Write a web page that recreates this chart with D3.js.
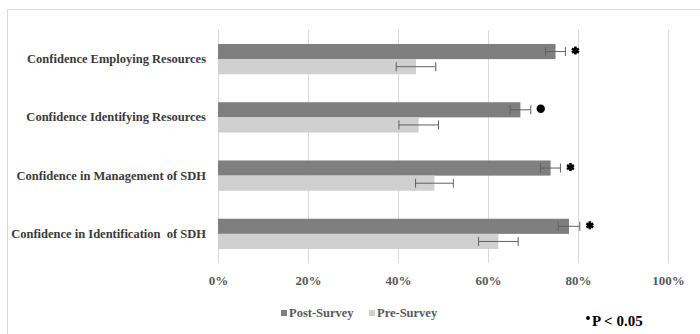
<!DOCTYPE html>
<html>
<head>
<meta charset="utf-8">
<script src="https://cdn.jsdelivr.net/npm/d3@7"></script>
<style>
  html, body { margin: 0; padding: 0; background: #fff; }
  svg { display: block; }
  svg text { font-family: "Liberation Serif", "DejaVu Serif", serif; }
</style>
</head>
<body>
<div id="chart"></div>
<script>
// ---- data ----
const categories = [
  "Confidence Employing Resources",
  "Confidence Identifying Resources",
  "Confidence in Management of SDH",
  "Confidence in Identification  of SDH"
];
const seriesNames = ["Post-Survey", "Pre-Survey"];
const postValues = [75, 67.2, 73.9, 78];
const preValues  = [44, 44.6, 48.1, 62.3];
const postErrors = [2.2, 2.3, 2.2, 2.4];
const preErrors  = [4.4, 4.4, 4.2, 4.4];
const sigMarkers = ["star", "circle", "star", "star"];
const tickValues = [0, 20, 40, 60, 80, 100];
const tickLabels = ["0%", "20%", "40%", "60%", "80%", "100%"];
const noteText = "P < 0.05";

// ---- layout ----
const W = 700, H = 334;
const plot = { left: 218, right: 668, top: 30, bottom: 263 };
const colors = { post: "#7f7f7f", pre: "#d0d0d0" };
const serif = "'Liberation Serif', 'DejaVu Serif', serif";

const svg = d3.select("#chart").append("svg")
  .attr("width", W).attr("height", H);

// outer frame
svg.append("rect")
  .attr("x", 7.5).attr("y", 9.5)
  .attr("width", W + 20).attr("height", H + 20)
  .attr("fill", "none").attr("stroke", "#d9d9d9");

const x = d3.scaleLinear().domain([0, 100]).range([plot.left, plot.right]);
const y = d3.scaleBand().domain(categories).range([plot.top, plot.bottom]).paddingInner(0.48).paddingOuter(0.24);
const ySeries = d3.scaleBand().domain(seriesNames).range([0, y.bandwidth()]);

// gridlines
svg.append("g")
  .selectAll("line").data(tickValues).join("line")
  .attr("x1", d => x(d) + 0.5).attr("x2", d => x(d) + 0.5)
  .attr("y1", plot.top).attr("y2", plot.bottom)
  .attr("stroke", "#d9d9d9").attr("stroke-width", 1);

// x tick labels via axis
const xAxis = d3.axisBottom(x).tickValues(tickValues)
  .tickFormat((d, i) => tickLabels[i]).tickSize(0).tickPadding(0);
const gx = svg.append("g").attr("transform", `translate(0,${plot.bottom + 13})`).call(xAxis);
gx.attr("font-family", null);
gx.select(".domain").remove();
gx.selectAll("text")
  .style("font-family", serif).style("font-size", "13px")
  .style("font-weight", "bold").attr("fill", "#595959");

// y labels via axis
const yAxis = d3.axisLeft(y).tickSize(0).tickPadding(0);
const gy = svg.append("g").attr("transform", `translate(206,0)`).call(yAxis);
gy.attr("font-family", null);
gy.select(".domain").remove();
gy.selectAll("text")
  .style("font-family", serif).style("font-size", "12.5px")
  .style("font-weight", "bold").attr("fill", "#3a3a3a")
  .style("white-space", "pre");

const rows = categories.map((c, i) => ({
  cat: c,
  bars: [
    { s: "Post-Survey", v: postValues[i], e: postErrors[i], color: colors.post },
    { s: "Pre-Survey", v: preValues[i], e: preErrors[i], color: colors.pre }
  ],
  sig: sigMarkers[i]
}));

const g = svg.append("g").selectAll("g").data(rows).join("g")
  .attr("transform", d => `translate(0,${y(d.cat)})`);

g.selectAll("rect").data(d => d.bars).join("rect")
  .attr("x", x(0)).attr("y", d => ySeries(d.s))
  .attr("width", d => x(d.v) - x(0))
  .attr("height", ySeries.bandwidth())
  .attr("fill", d => d.color);

// error bars
const capH = 9;
const eb = g.selectAll("g.err").data(d => d.bars).join("g").attr("class", "err")
  .attr("stroke", "#606060").attr("stroke-width", 1);
eb.append("line")
  .attr("x1", d => x(d.v - d.e)).attr("x2", d => x(d.v + d.e))
  .attr("y1", d => ySeries(d.s) + ySeries.bandwidth() / 2)
  .attr("y2", d => ySeries(d.s) + ySeries.bandwidth() / 2);
eb.append("line")
  .attr("x1", d => x(d.v - d.e)).attr("x2", d => x(d.v - d.e))
  .attr("y1", d => ySeries(d.s) + ySeries.bandwidth() / 2 - capH / 2)
  .attr("y2", d => ySeries(d.s) + ySeries.bandwidth() / 2 + capH / 2);
eb.append("line")
  .attr("x1", d => x(d.v + d.e)).attr("x2", d => x(d.v + d.e))
  .attr("y1", d => ySeries(d.s) + ySeries.bandwidth() / 2 - capH / 2)
  .attr("y2", d => ySeries(d.s) + ySeries.bandwidth() / 2 + capH / 2);

// significance markers
const starSym = d3.symbol().type(d3.symbolAsterisk).size(45);
const circSym = d3.symbol().type(d3.symbolCircle).size(55);
g.append("path")
  .attr("d", d => d.sig === "circle" ? circSym() : starSym())
  .attr("transform", d => {
    const b = d.bars[0];
    return `translate(${x(b.v + b.e) + 10},${ySeries(b.s) + ySeries.bandwidth() / 2 - 1})`;
  })
  .attr("fill", "#000")
  .attr("stroke", d => d.sig === "circle" ? "none" : "#000")
  .attr("stroke-width", 2.6);

// legend
const legend = svg.append("g").attr("transform", "translate(281,313)");
const legItems = [
  { name: seriesNames[0], color: colors.post, x: 0 },
  { name: seriesNames[1], color: colors.pre, x: 88 }
];
const li = legend.selectAll("g").data(legItems).join("g")
  .attr("transform", d => `translate(${d.x},0)`);
li.append("rect").attr("x", 0).attr("y", -3).attr("width", 6).attr("height", 6)
  .attr("fill", d => d.color);
li.append("text").attr("x", 8).attr("y", 4)
  .style("font-family", serif).style("font-size", "12.5px")
  .style("font-weight", "bold").attr("fill", "#595959")
  .text(d => d.name);

// note
const note = svg.append("g").attr("transform", "translate(588,321)");
note.append("path").attr("d", d3.symbol().type(d3.symbolCircle).size(12)())
  .attr("transform", "translate(0,-3)").attr("fill", "#000");
note.append("text").attr("x", 4).attr("y", 5)
  .style("font-family", serif).style("font-size", "15px")
  .style("font-weight", "bold").attr("fill", "#000")
  .text(noteText);
</script>
</body>
</html>
